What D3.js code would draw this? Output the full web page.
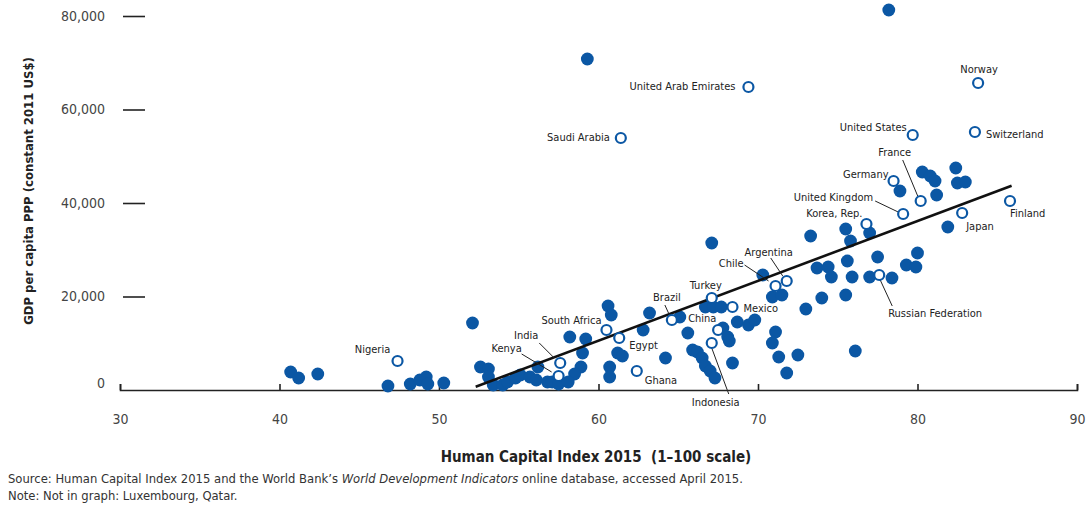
<!DOCTYPE html>
<html>
<head>
<meta charset="utf-8">
<script src="https://cdn.jsdelivr.net/npm/d3@7"></script>
<style>
  html, body { margin: 0; padding: 0; background: #fff; }
  svg { display: block; }
  text { font-family: "Liberation Sans Narrow", "Arial Narrow", "DejaVu Sans Condensed", sans-serif; }
</style>
</head>
<body>
<svg id="chart" width="1086" height="511"></svg>
<script>
// ---------------- DATA ----------------
const xTicks = [30, 40, 50, 60, 70, 80, 90];
const yTicks = [0, 20000, 40000, 60000, 80000];

// unlabeled countries (filled dots)
const filledHCI = [40.7, 41.2, 42.4, 46.8, 48.2, 48.8, 49.2, 49.3, 50.3, 52.1,
  52.6, 53.1, 53.1, 53.4, 54.0, 54.3, 54.8, 55.1, 55.7, 56.1,
  56.2, 56.8, 57.1, 57.5, 58.2, 59.2, 59.0, 58.9, 58.5, 58.1,
  60.6, 60.8, 61.2, 61.5, 60.7, 60.7, 63.2, 62.8, 65.1, 64.2,
  65.6, 65.9, 66.2, 66.7, 67.2, 67.7, 67.8, 68.1, 68.2, 66.5,
  66.7, 67.0, 67.3, 68.4, 68.7, 69.4, 69.8, 67.1, 70.3, 70.9,
  71.5, 71.1, 70.9, 71.3, 72.5, 71.8, 73.0, 73.3, 74.0, 75.5,
  73.7, 74.4, 74.6, 75.5, 75.8, 77.0, 75.6, 75.9, 77.0, 78.4,
  77.5, 80.0, 79.3, 79.9, 78.9, 80.3, 80.8, 81.1, 82.4, 82.5,
  83.0, 81.2, 81.9, 76.1, 59.3, 78.2];
const filledGDP = [3850, 2570, 3420, 860, 1280, 2140, 2780, 1280, 1500, 14330,
  4920, 4490, 2780, 1070, 1070, 1710, 2570, 3210, 2780, 2140,
  4920, 1710, 1710, 1280, 11340, 10910, 7910, 4920, 3420, 1710,
  17970, 16040, 7910, 7270, 4920, 2780, 16470, 12830, 15620, 6850,
  12190, 8560, 8130, 17750, 17750, 17750, 13260, 11340, 10480, 6850,
  5130, 4060, 2570, 5780, 14550, 13900, 14970, 31440, 24600, 19890,
  20320, 12410, 10050, 7060, 7490, 3640, 17330, 32940, 19680, 20320,
  26100, 26310, 24170, 34440, 31870, 33580, 27590, 24170, 24170, 23960,
  28450, 29300, 26740, 26310, 42570, 46630, 45780, 44710, 47490, 44280,
  44490, 41710, 34870, 8340, 70800, 81280];

// labeled countries (open circles)
const labeledNames = ["Nigeria", "Kenya", "India", "South Africa", "Egypt", "Ghana",
  "Brazil", "Turkey", "China", "Indonesia", "Mexico", "Chile", "Argentina",
  "Russian Federation", "Korea, Rep.", "United Kingdom", "France", "Germany",
  "Japan", "Finland", "United States", "Switzerland", "Norway",
  "United Arab Emirates", "Saudi Arabia"];
const labeledHCI = [47.4, 57.5, 57.6, 60.5, 61.3, 62.4,
  64.6, 67.1, 67.5, 67.1, 68.4, 71.1, 71.8,
  77.6, 76.8, 79.1, 80.2, 78.5,
  82.8, 85.8, 79.7, 83.6, 83.8,
  69.4, 61.4];
const labeledGDP = [6200, 3000, 5780, 12830, 11120, 4060,
  14970, 19680, 12830, 10050, 17750, 22250, 23320,
  24600, 35510, 37650, 40430, 44710,
  37860, 40430, 54550, 55190, 65670,
  64810, 53900];

// fitted trend line endpoints
const trendHCI = [52.3, 85.9];
const trendGDP = [700, 43700];

// ---------------- LABEL PLACEMENT (styling) ----------------
// anchor, dx, dy of text baseline relative to point; optional leader [x1,y1,x2,y2] offsets
const labelStyle = {
  "Nigeria": {a: "middle", dx: -25, dy: -8},
  "Kenya": {a: "middle", dx: -52, dy: -24, l: [-37, -22, -7, -4]},
  "India": {a: "middle", dx: -34, dy: -24, l: [-21, -20, -6, -5]},
  "South Africa": {a: "end", dx: -5, dy: -6},
  "Egypt": {a: "start", dx: 10, dy: 11},
  "Ghana": {a: "start", dx: 8, dy: 13},
  "Brazil": {a: "middle", dx: -5, dy: -19, l: [-7, -15, -2, -4]},
  "Turkey": {a: "middle", dx: -6, dy: -9},
  "China": {a: "start", dx: -30, dy: -8},
  "Indonesia": {a: "middle", dx: 4, dy: 63, l: [0, 5, 17, 51]},
  "Mexico": {a: "start", dx: 11, dy: 5},
  "Chile": {a: "end", dx: -32, dy: -19, l: [-31, -21, -7, -5]},
  "Argentina": {a: "middle", dx: -18, dy: -25, l: [-16, -23, -4, -5]},
  "Russian Federation": {a: "start", dx: 9, dy: 42, l: [1, 5, 13, 31]},
  "Korea, Rep.": {a: "end", dx: -4, dy: -7},
  "United Kingdom": {a: "end", dx: -30, dy: -13, l: [-28, -13, -5, -2]},
  "France": {a: "middle", dx: -26, dy: -45, l: [-18, -41, -3, -5]},
  "Germany": {a: "end", dx: -5, dy: -3},
  "Japan": {a: "start", dx: 4, dy: 17},
  "Finland": {a: "start", dx: 0, dy: 16},
  "United States": {a: "end", dx: -6, dy: -4},
  "Switzerland": {a: "start", dx: 11, dy: 6},
  "Norway": {a: "middle", dx: 1, dy: -10},
  "United Arab Emirates": {a: "end", dx: -13, dy: 3},
  "Saudi Arabia": {a: "end", dx: -11, dy: 3}
};

// ---------------- DRAW ----------------
const svg = d3.select("#chart");
const blue = "#0b57a4";

const x = d3.scaleLinear().domain([30, 90]).range([120, 1077]);
const y = d3.scaleLinear().domain([0, 80000]).range([390, 16]);

// X axis
const xAxis = svg.append("g")
  .attr("transform", `translate(0,${y(0)})`)
  .call(d3.axisBottom(x).tickValues(xTicks).tickSizeInner(-6).tickSizeOuter(-6).tickPadding(24)
    .tickFormat(d3.format("d")));
xAxis.select(".domain").attr("stroke", "#222").attr("stroke-width", 1.6);
xAxis.selectAll(".tick line").attr("stroke", "#222").attr("stroke-width", 1.6);
xAxis.selectAll(".tick text").attr("fill", "#444").style("font-size", "14px");

// Y axis
const yAxis = svg.append("g")
  .attr("transform", `translate(145,0)`)
  .call(d3.axisLeft(y).tickValues(yTicks).tickSize(22).tickPadding(18)
    .tickFormat(d3.format(",")));
yAxis.select(".domain").remove();
yAxis.selectAll(".tick line").attr("stroke", "#222").attr("stroke-width", 1.6)
  .filter(d => d === 0).remove();
yAxis.selectAll(".tick text").attr("fill", "#444").style("font-size", "14px")
  .filter(d => d === 0).attr("x", -40).attr("y", -7);

// filled dots
const filled = filledHCI.map((h, i) => ({h, g: filledGDP[i]}));
svg.append("g").selectAll("circle").data(filled).join("circle")
  .attr("cx", d => x(d.h)).attr("cy", d => y(d.g)).attr("r", 6.4)
  .attr("fill", blue);

// trend line
svg.append("line")
  .attr("x1", x(trendHCI[0])).attr("y1", y(trendGDP[0]))
  .attr("x2", x(trendHCI[1])).attr("y2", y(trendGDP[1]))
  .attr("stroke", "#111").attr("stroke-width", 2.6);

// labeled open circles
const labeled = labeledNames.map((n, i) => ({n, h: labeledHCI[i], g: labeledGDP[i]}));
const lg = svg.append("g");
labeled.forEach(d => {
  const s = labelStyle[d.n];
  const px = x(d.h), py = y(d.g);
  if (s.l) {
    lg.append("line")
      .attr("x1", px + s.l[0]).attr("y1", py + s.l[1])
      .attr("x2", px + s.l[2]).attr("y2", py + s.l[3])
      .attr("stroke", "#222").attr("stroke-width", 1);
  }
});
lg.selectAll("circle").data(labeled).join("circle")
  .attr("cx", d => x(d.h)).attr("cy", d => y(d.g)).attr("r", 5)
  .attr("fill", "#fff").attr("stroke", blue).attr("stroke-width", 2.2);
lg.selectAll("text").data(labeled).join("text")
  .attr("x", d => x(d.h) + labelStyle[d.n].dx)
  .attr("y", d => y(d.g) + labelStyle[d.n].dy)
  .attr("text-anchor", d => labelStyle[d.n].a)
  .attr("fill", "#222").style("font-size", "11px")
  .text(d => d.n);

// axis titles
svg.append("text")
  .attr("x", 596).attr("y", 462).attr("text-anchor", "middle")
  .attr("fill", "#222").style("font-size", "15px").style("font-weight", "bold")
  .style("white-space", "pre")
  .text("Human Capital Index 2015\u00a0 (1–100 scale)");
svg.append("text")
  .attr("transform", "translate(33,191) rotate(-90)").attr("text-anchor", "middle")
  .attr("fill", "#222").style("font-size", "13px").style("font-weight", "bold")
  .text("GDP per capita PPP (constant 2011 US$)");

// notes
const src = svg.append("text").attr("x", 8).attr("y", 483).attr("fill", "#333").style("font-size", "12.9px");
src.append("tspan").text("Source: Human Capital Index 2015 and the World Bank’s ");
src.append("tspan").style("font-style", "italic").text("World Development Indicators");
src.append("tspan").text(" online database, accessed April 2015.");
svg.append("text").attr("x", 8).attr("y", 500).attr("fill", "#333").style("font-size", "12.9px")
  .text("Note: Not in graph: Luxembourg, Qatar.");
</script>
</body>
</html>
